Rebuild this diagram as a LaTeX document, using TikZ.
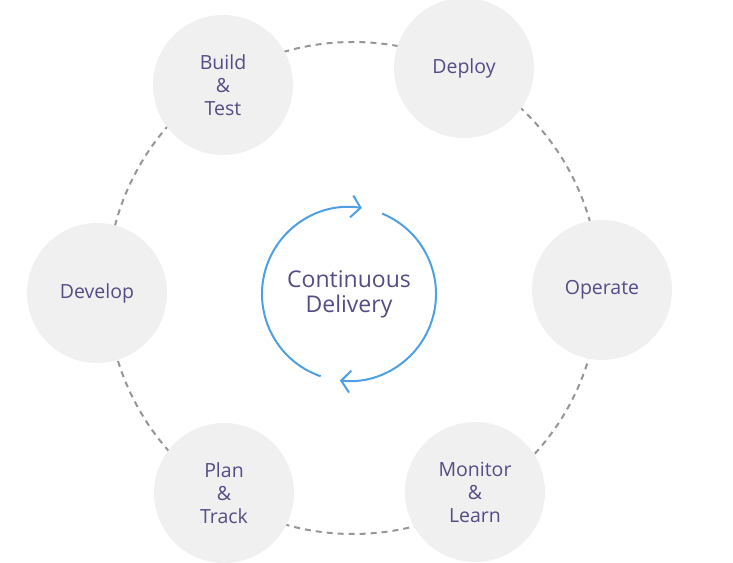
\documentclass[tikz,border=0pt]{standalone}
\usepackage{fontspec}
\setmainfont{Open Sans}
\usetikzlibrary{arrows.meta}
\definecolor{stagefill}{RGB}{240,240,240}
\definecolor{stagetext}{RGB}{84,76,132}
\definecolor{ringgray}{RGB}{150,150,150}
\definecolor{loopblue}{RGB}{78,160,226}
\begin{document}
\begin{tikzpicture}[
    x=1pt, y=1pt,
    % Les étapes autour de l'anneau
    stage/.style={circle, fill=stagefill, minimum size=140pt, inner sep=0pt,
        align=center, text=stagetext, font=\fontsize{19.5}{23}\selectfont},
    ring/.style={draw=ringgray, line width=2pt, dash pattern=on 6pt off 5pt},
    % Flèches du cycle central
    loop/.style={draw=loopblue, line width=2pt,
        -{Straight Barb[length=9pt, width=22pt, line width=2pt]}}
]
\useasboundingbox (0,0) rectangle (733,562);
% Anneau pointillé
\coordinate (hub) at (353,274);
\draw[ring] (hub) circle[radius=246pt];
% Étapes
\node[stage] (build)   at (223,477) {Build\\\&\\Test};
\node[stage] (deploy)  at (464,494) {Deploy};
\node[stage] (operate) at (602,272) {Operate};
\node[stage] (monitor) at (475,70)  {Monitor\\\&\\Learn};
\node[stage] (plan)    at (224,69)  {Plan\\\&\\Track};
\node[stage] (develop) at (97,269)  {Develop};
% Centre
\coordinate (core) at (349,268);
\node[align=center, text=stagetext, font=\fontsize{23}{25}\selectfont] (label) at (core) {Continuous\\Delivery};
\draw[loop] ([shift={(251:87pt)}]core) arc[start angle=251, end angle=81.5, radius=87pt];
\draw[loop] ([shift={(67.6:87pt)}]core) arc[start angle=67.6, end angle=-96, radius=87pt];
\end{tikzpicture}
\end{document}
